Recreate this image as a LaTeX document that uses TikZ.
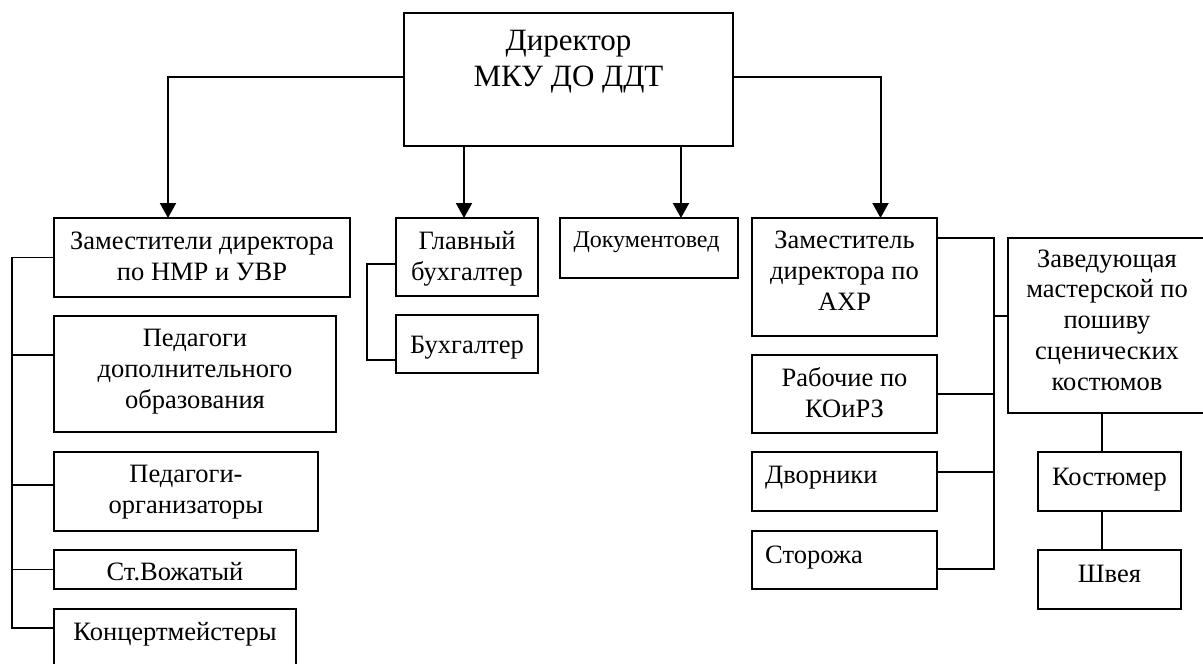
\documentclass[tikz,border=0pt]{standalone}
\usepackage{fontspec}
\setmainfont{Liberation Serif}
\usetikzlibrary{arrows.meta}
\begin{document}
\begin{tikzpicture}[x=1pt,y=-1pt,
 box/.style={draw, line width=1.4pt, inner sep=0pt, outer sep=0pt},
 lbl/.style={anchor=base, align=center, font=\fontsize{26.5}{30.7}\selectfont, inner sep=0pt},
 conn/.style={line width=1.4pt},
 arr/.style={line width=2pt, -{Triangle[width=16pt,length=15pt]}}]
\useasboundingbox (0,0) rectangle (1203,664);
\clip (0,0) rectangle (1203,664);
% boxes
\node[box, minimum width=329pt, minimum height=133pt] (dir) at (568.5,79.5) {};
\node[box, minimum width=296pt, minimum height=79pt] (zam) at (202,257.5) {};
\node[box, minimum width=282pt, minimum height=116pt] (ped) at (195,374) {};
\node[box, minimum width=264pt, minimum height=79pt] (org) at (186,491.5) {};
\node[box, minimum width=242pt, minimum height=39pt] (voz) at (175,569.5) {};
\node[box, minimum width=242pt, minimum height=63pt] (kon) at (175,640.5) {};
\node[box, minimum width=142pt, minimum height=78pt] (glb) at (467,257) {};
\node[box, minimum width=142pt, minimum height=58pt] (bux) at (467,344) {};
\node[box, minimum width=178pt, minimum height=60pt] (dok) at (649,248) {};
\node[box, minimum width=185pt, minimum height=118pt] (ahr) at (844.5,277) {};
\node[box, minimum width=185pt, minimum height=78pt] (rab) at (844.5,394) {};
\node[box, minimum width=185pt, minimum height=59pt] (dvo) at (844.5,481.5) {};
\node[box, minimum width=185pt, minimum height=58pt] (sto) at (844.5,560) {};
\node[box, minimum width=198pt, minimum height=175pt] (zav) at (1107,325.5) {};
\node[box, minimum width=143pt, minimum height=59pt] (kos) at (1109.5,481.5) {};
\node[box, minimum width=143pt, minimum height=59pt] (shv) at (1109.5,579.5) {};
% texts (anchor = baseline of the last line)
\node[lbl, font=\fontsize{31}{36}\selectfont] (dirt) at (568.5,86) {Директор\\МКУ ДО ДДТ};
\node[lbl] (zamt) at (202,280) {Заместители директора\\по НМР и УВР};
\node[lbl] (pedt) at (195,408) {Педагоги\\дополнительного\\образования};
\node[lbl] (orgt) at (186,513) {Педагоги-\\организаторы};
\node[lbl] (vozt) at (175,580) {Ст.Вожатый};
\node[lbl] (kont) at (175,640) {Концертмейстеры};
\node[lbl] (glbt) at (467,280) {Главный\\бухгалтер};
\node[lbl] (buxt) at (467,353) {Бухгалтер};
\node[lbl, font=\fontsize{24}{28}\selectfont] (dokt) at (646.5,247) {Документовед};
\node[lbl] (ahrt) at (844.5,310) {Заместитель\\директора по\\АХР};
\node[lbl] (rabt) at (844.5,417) {Рабочие по\\КОиРЗ};
\node[lbl, anchor=base west] (dvot) at (765,483) {Дворники};
\node[lbl, anchor=base west] (stot) at (765,563) {Сторожа};
\node[lbl] (zavt) at (1107,390) {Заведующая\\мастерской по\\пошиву\\сценических\\костюмов};
\node[lbl] (kost) at (1109.5,485) {Костюмер};
\node[lbl] (shvt) at (1109.5,582) {Швея};
% arrows from director
\draw[arr] ([yshift=2.5pt]dir.west) -| ([xshift=-34pt]zam.north);
\draw[arr] ([yshift=2.5pt]dir.east) -| ([xshift=36pt]ahr.north);
\draw[arr] ([xshift=-3pt]glb.north |- dir.south) -- ([xshift=-3pt]glb.north);
\draw[arr] ([xshift=32pt]dok.north |- dir.south) -- ([xshift=32pt]dok.north);
% left bus
\draw[conn] (zam.west) -- ++(-42,0) |- ([yshift=12.5pt]kon.west);
\draw[conn] ([yshift=19pt]ped.west) -- ++(-42,0);
\draw[conn] ([yshift=6.5pt]org.west) -- ++(-42,0);
\draw[conn] (voz.west) -- ++(-42,0);
% accounting bracket
\draw[conn] ([yshift=-7pt]glb.west) -- ++(-29,0) |- ([yshift=-16pt]bux.west);
% right bus
\draw[conn] ([yshift=39pt]ahr.east) -- ++(57,0) |- ([yshift=-9pt]sto.east);
\draw[conn] (rab.east) -- ++(57,0);
\draw[conn] ([yshift=9.5pt]dvo.east) -- ++(57,0);
\draw[conn] ([yshift=9.5pt]zav.west) -- ++(-14,0);
% workshop chain
\draw[conn] ([xshift=-7.5pt]kos.north) -- ([xshift=-7.5pt]kos.north |- zav.south);
\draw[conn] ([xshift=-7.5pt]kos.south) -- ([xshift=-7.5pt]shv.north);
\end{tikzpicture}
\end{document}
